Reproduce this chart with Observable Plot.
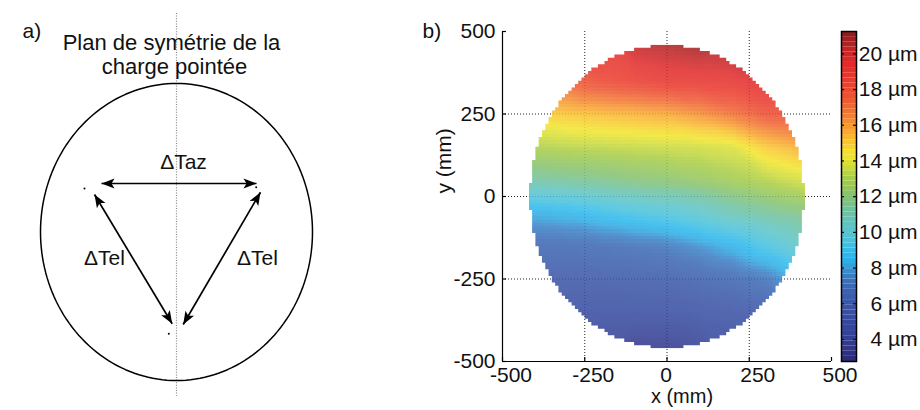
<!DOCTYPE html>
<html><head><meta charset="utf-8">
<script src="https://cdn.jsdelivr.net/npm/d3@7"></script>
<script src="https://cdn.jsdelivr.net/npm/@observablehq/plot@0.6"></script>
<style>
body{margin:0;background:#fff;}
#wrap{display:flex;width:920px;height:410px;background:#fff;}
#wrap svg{display:block;overflow:visible;}
</style></head><body><div id="wrap"></div>
<script>
// ================= DATA =================
// ---- panel a: schematic (units: px-like, origin at outline centre, y up)
const panelLabels = ["a)", "b)"];
const titleLines = ["Plan de symétrie de la", "charge pointée"];
const titleX = [-5, -2];
const titleY = [189.5, 165.5];
const outlineRadii = [136, 148.5];          // [rx, ry]
const symAxisEnds = [218.5, -164.5];        // y top, y bottom of dotted axis
const arrowStartX = [-75, -82, 84];
const arrowStartY = [48.5, 37.5, 39.8];
const arrowEndX = [80, -4.3, 6.7];
const arrowEndY = [48.5, -91.8, -92.5];
const markerDotX = [-92, 79.7, -7.7];
const markerDotY = [43.5, 44.8, -101.8];
const deltaLabels = ["ΔTaz", "ΔTel", "ΔTel"];
const deltaX = [7, -72, 81];
const deltaY = [69.5, -26.5, -26.5];

// ---- panel b: deformation map (mm, µm)
const xTicks = [-500, -250, 0, 250, 500];
const yTicks = [-500, -250, 0, 250, 500];
const gridLines = [-250, 0, 250];
const sampleX = [-400, -300, -200, -100, 0, 100, 200, 300, 400];
const sampleY = [450, 350, 250, 150, 50, -50, -150, -250, -350, -450];
const rowP450 = [null, null, 19.8, 20.2, 20.5, 20.8, 21.0, null, null];
const rowP350 = [null, 17.5, 18.2, 18.6, 19.0, 19.1, 19.2, 19.8, null];
const rowP250 = [14.9, 15.1, 15.3, 15.5, 15.7, 16.2, 16.9, 17.8, 18.0];
const rowP150 = [13.1, 13.3, 13.4, 13.5, 13.6, 13.7, 13.9, 15.0, 15.6];
const rowP050 = [11.2, 11.4, 11.6, 11.9, 12.1, 12.4, 12.8, 13.2, 13.7];
const rowM050 = [8.3, 8.5, 8.9, 9.3, 9.6, 10.1, 10.8, 11.3, 11.7];
const rowM150 = [6.7, 6.8, 6.9, 7.1, 7.3, 7.8, 8.4, 9.3, 10.3];
const rowM250 = [5.8, 5.9, 5.9, 6.0, 6.1, 6.4, 6.7, 7.2, 8.4];
const rowM350 = [null, 5.1, 5.1, 5.1, 5.15, 5.3, 5.5, 5.8, null];
const rowM450 = [null, null, 3.8, 3.5, 3.6, 4.0, 4.5, null, null];
// values read along the rim of the map (just outside it)
const rimY = [250, 150, 50, 0, -50, -150, -250];
const rimLeft = [14.9, 13.0, 11.1, 9.6, 8.2, 6.6, 5.8];
const rimRight = [18.1, 15.7, 13.7, 13.0, 11.8, 10.4, 8.5];
const rimX = [-440, 440];
const rimTopBottom = [[-150, 470, 19.6], [0, 470, 20.7], [150, 470, 21.0], [-150, -470, 3.7], [0, -470, 3.5], [150, -470, 4.4]];
const waferRadii = [417, 458];   // mm, semi-axes of the measured area
const cellSize = 10;             // mm, pixel of the map
const colorLimits = [2.77, 21.25];
const cbTicks = [4, 6, 8, 10, 12, 14, 16, 18, 20];
const cmapStops = [2.77, 4.0, 5.0, 6.0, 7.0, 7.6, 8.2, 8.7, 9.5, 10.3, 11.2, 12.0, 13.0, 13.7, 14.3, 15.0, 15.8, 16.6, 17.5, 18.5, 19.5, 20.3, 21.25];
const cmapColors = ["#2c2a78", "#323e94", "#3549a0", "#3a56a8", "#3b68b4", "#3a7ec4", "#2ea9e2", "#2ab8ee", "#48c2dc", "#5cc4c6", "#6ec2a0", "#84c270", "#a6cc46", "#d0dc38", "#f2e62c", "#f9c82e", "#f8a02e", "#f27a30", "#ee5530", "#ea3a2c", "#e22a2a", "#c02224", "#8a1a1c"];

// ================= BUILD =================
const FONT = "Liberation Sans, Arial, sans-serif";
const wrap = document.getElementById("wrap");

// ---- panel a
const ellipsePts = d3.range(0, 360, 2).map(t => ({
  x: outlineRadii[0] * Math.cos(t * Math.PI / 180),
  y: outlineRadii[1] * Math.sin(t * Math.PI / 180)
}));
const arrows = arrowStartX.map((_, i) => ({x1: arrowStartX[i], y1: arrowStartY[i], x2: arrowEndX[i], y2: arrowEndY[i]}));
const heads = arrows.flatMap(a => [
  {x: a.x2, y: a.y2, angle: Math.atan2(a.x2 - a.x1, a.y2 - a.y1) * 180 / Math.PI},
  {x: a.x1, y: a.y1, angle: Math.atan2(a.x1 - a.x2, a.y1 - a.y2) * 180 / Math.PI}
]);
const headShape = {draw(ctx) {
  ctx.moveTo(0, 0); ctx.lineTo(5, 13); ctx.lineTo(0, 10); ctx.lineTo(-5, 13); ctx.closePath();
}};
const dotsA = markerDotX.map((x, i) => ({x, y: markerDotY[i]}));
const deltas = deltaLabels.map((t, i) => ({t, x: deltaX[i], y: deltaY[i]}));
const titles = titleLines.map((t, i) => ({t, x: titleX[i], y: titleY[i]}));

const plotA = Plot.plot({
  width: 400, height: 410, margin: 0,
  style: {fontFamily: FONT, background: "none"},
  x: {domain: [-176, 224], range: [0, 400], axis: null},
  y: {domain: [-178.5, 231.5], range: [410, 0], axis: null},
  marks: [
    Plot.ruleX([0], {y1: symAxisEnds[0], y2: symAxisEnds[1], stroke: "#858585", strokeWidth: 1.2, strokeDasharray: "1,1.6"}),
    Plot.line(ellipsePts, {x: "x", y: "y", curve: "linear-closed", stroke: "black", strokeWidth: 1.5}),
    Plot.link(arrows, {x1: "x1", y1: "y1", x2: "x2", y2: "y2", stroke: "black", strokeWidth: 1.7}),
    Plot.dot(heads, {x: "x", y: "y", rotate: "angle", symbol: headShape, r: 5, fill: "black", stroke: "none"}),
    Plot.dot(dotsA, {x: "x", y: "y", r: 1, fill: "black", stroke: "none"}),
    Plot.text(titles, {x: "x", y: "y", text: "t", fontSize: 22, fill: "#111"}),
    Plot.text(deltas, {x: "x", y: "y", text: "t", fontSize: 21, fill: "#111"}),
    Plot.text([panelLabels[0]], {frameAnchor: "top-left", dx: 22, dy: 23, fontSize: 21, fill: "#111"})
  ]
});
wrap.appendChild(plotA);

// ---- panel b
const rows = [rowP450, rowP350, rowP250, rowP150, rowP050, rowM050, rowM150, rowM250, rowM350, rowM450];
const samples = sampleY.flatMap((y, j) => sampleX.map((x, i) => ({x, y, v: rows[j][i]}))).filter(d => d.v != null)
  .concat(rimY.map((y, i) => ({x: rimX[0], y, v: rimLeft[i]})))
  .concat(rimY.map((y, i) => ({x: rimX[1], y, v: rimRight[i]})))
  .concat(rimTopBottom.map(([x, y, v]) => ({x, y, v})));
const colorScale = {type: "linear", domain: cmapStops, range: cmapColors, interpolate: "rgb", clamp: true};
const nx = Math.round(2 * 420 / cellSize), ny = Math.round(2 * 460 / cellSize);

const plotB = Plot.plot({
  width: 440, height: 410,
  marginLeft: 102, marginRight: 9, marginTop: 31, marginBottom: 49,
  style: {fontFamily: FONT, background: "none"},
  x: {domain: [-500, 500], axis: null},
  y: {domain: [-500, 500], axis: null},
  color: colorScale,
  marks: [
    Plot.ruleX(gridLines, {stroke: "#222", strokeWidth: 1, strokeDasharray: "1,2"}),
    Plot.ruleY(gridLines, {stroke: "#222", strokeWidth: 1, strokeDasharray: "1,2"}),
    Plot.raster(samples, {x: "x", y: "y", fill: "v", interpolate: "barycentric",
      x1: -420, x2: 420, y1: -460, y2: 460, width: nx, height: ny, imageRendering: "pixelated"}),
    Plot.ruleX([-500], {stroke: "black", strokeWidth: 1.2}),
    Plot.ruleY([-500], {stroke: "black", strokeWidth: 1.2}),
    Plot.ruleY(yTicks, {y: d => d, x1: -500, x2: -488, stroke: "black", strokeWidth: 1.2}),
    Plot.ruleX(xTicks, {x: d => d, y1: -500, y2: -488, stroke: "black", strokeWidth: 1.2}),
    Plot.text(yTicks, {x: -500, y: d => d, text: d => String(d), textAnchor: "end", dx: -7, fontSize: 21, fill: "#111"}),
    Plot.text(xTicks.filter(d => d !== 0), {x: d => d, y: -500, text: d => String(d), dy: 14, dx: 8.5, fontSize: 21, fill: "#111"}),
    Plot.text(xTicks.filter(d => d === 0), {x: d => d, y: -500, text: d => String(d), dy: 14, dx: -1, fontSize: 21, fill: "#111"}),
    Plot.text(["x (mm)"], {frameAnchor: "bottom", dy: 41, dx: 15, fontSize: 20, fill: "#111"}),
    Plot.text(["y (mm)"], {frameAnchor: "left", rotate: -90, dx: -58, dy: -3, fontSize: 21, fill: "#111"}),
    Plot.text([panelLabels[1]], {frameAnchor: "top-left", dx: -80, dy: -8, fontSize: 21, fill: "#111"})
  ]
});
// clip the map to the stair-stepped wafer outline
(function clipWafer() {
  const xs = plotB.scale("x"), ys = plotB.scale("y");
  const [a, b] = waferRadii;
  let d = "";
  for (let j = 0; j < ny; j++) {
    const yc = -460 + cellSize / 2 + j * cellSize;
    let lo = Infinity, hi = -Infinity;
    for (let i = 0; i < nx; i++) {
      const xc = -420 + cellSize / 2 + i * cellSize;
      if ((xc / a) ** 2 + (yc / b) ** 2 <= 1) { lo = Math.min(lo, xc); hi = Math.max(hi, xc); }
    }
    if (lo > hi) continue;
    const X0 = xs.apply(lo - cellSize / 2), X1 = xs.apply(hi + cellSize / 2);
    const Y0 = ys.apply(yc + cellSize / 2) - 0.2, Y1 = ys.apply(yc - cellSize / 2) + 0.2;
    d += `M${X0},${Y0}H${X1}V${Y1}H${X0}Z`;
  }
  const ns = "http://www.w3.org/2000/svg";
  const defs = document.createElementNS(ns, "defs");
  const cp = document.createElementNS(ns, "clipPath");
  cp.setAttribute("id", "waferClip");
  const p = document.createElementNS(ns, "path");
  p.setAttribute("d", d);
  cp.appendChild(p); defs.appendChild(cp); plotB.insertBefore(defs, plotB.firstChild);
  const g = plotB.querySelector('g[aria-label="raster"]');
  if (g) { g.setAttribute("clip-path", "url(#waferClip)"); g.setAttribute("opacity", "0.86"); }
})();
wrap.appendChild(plotB);

// ---- colour bar
const nBands = 64;
const step = (colorLimits[1] - colorLimits[0]) / nBands;
const bands = d3.range(nBands).map(i => ({lo: colorLimits[0] + i * step, hi: colorLimits[0] + (i + 1) * step, mid: colorLimits[0] + (i + 0.5) * step}));
const plotC = Plot.plot({
  width: 80, height: 410,
  marginLeft: 1, marginRight: 64, marginTop: 31, marginBottom: 49,
  style: {fontFamily: FONT, background: "none"},
  x: {domain: [0, 15], axis: null},
  y: {domain: colorLimits, axis: null},
  color: colorScale,
  marks: [
    Plot.rect(bands, {y1: "lo", y2: "hi", fill: "mid"}),
    Plot.ruleY(cbTicks, {y: d => d, x1: 0, x2: 3, stroke: "#111", strokeWidth: 1.2}),
    Plot.ruleY(cbTicks, {y: d => d, x1: 12, x2: 15, stroke: "#111", strokeWidth: 1.2}),
    Plot.frame({stroke: "black", strokeWidth: 1.5}),
    Plot.text(cbTicks, {y: d => d, frameAnchor: "right", text: d => d + " µm", textAnchor: "end", dx: 61, fontSize: 21, fill: "#111"})
  ]
});
wrap.appendChild(plotC);
</script></body></html>
